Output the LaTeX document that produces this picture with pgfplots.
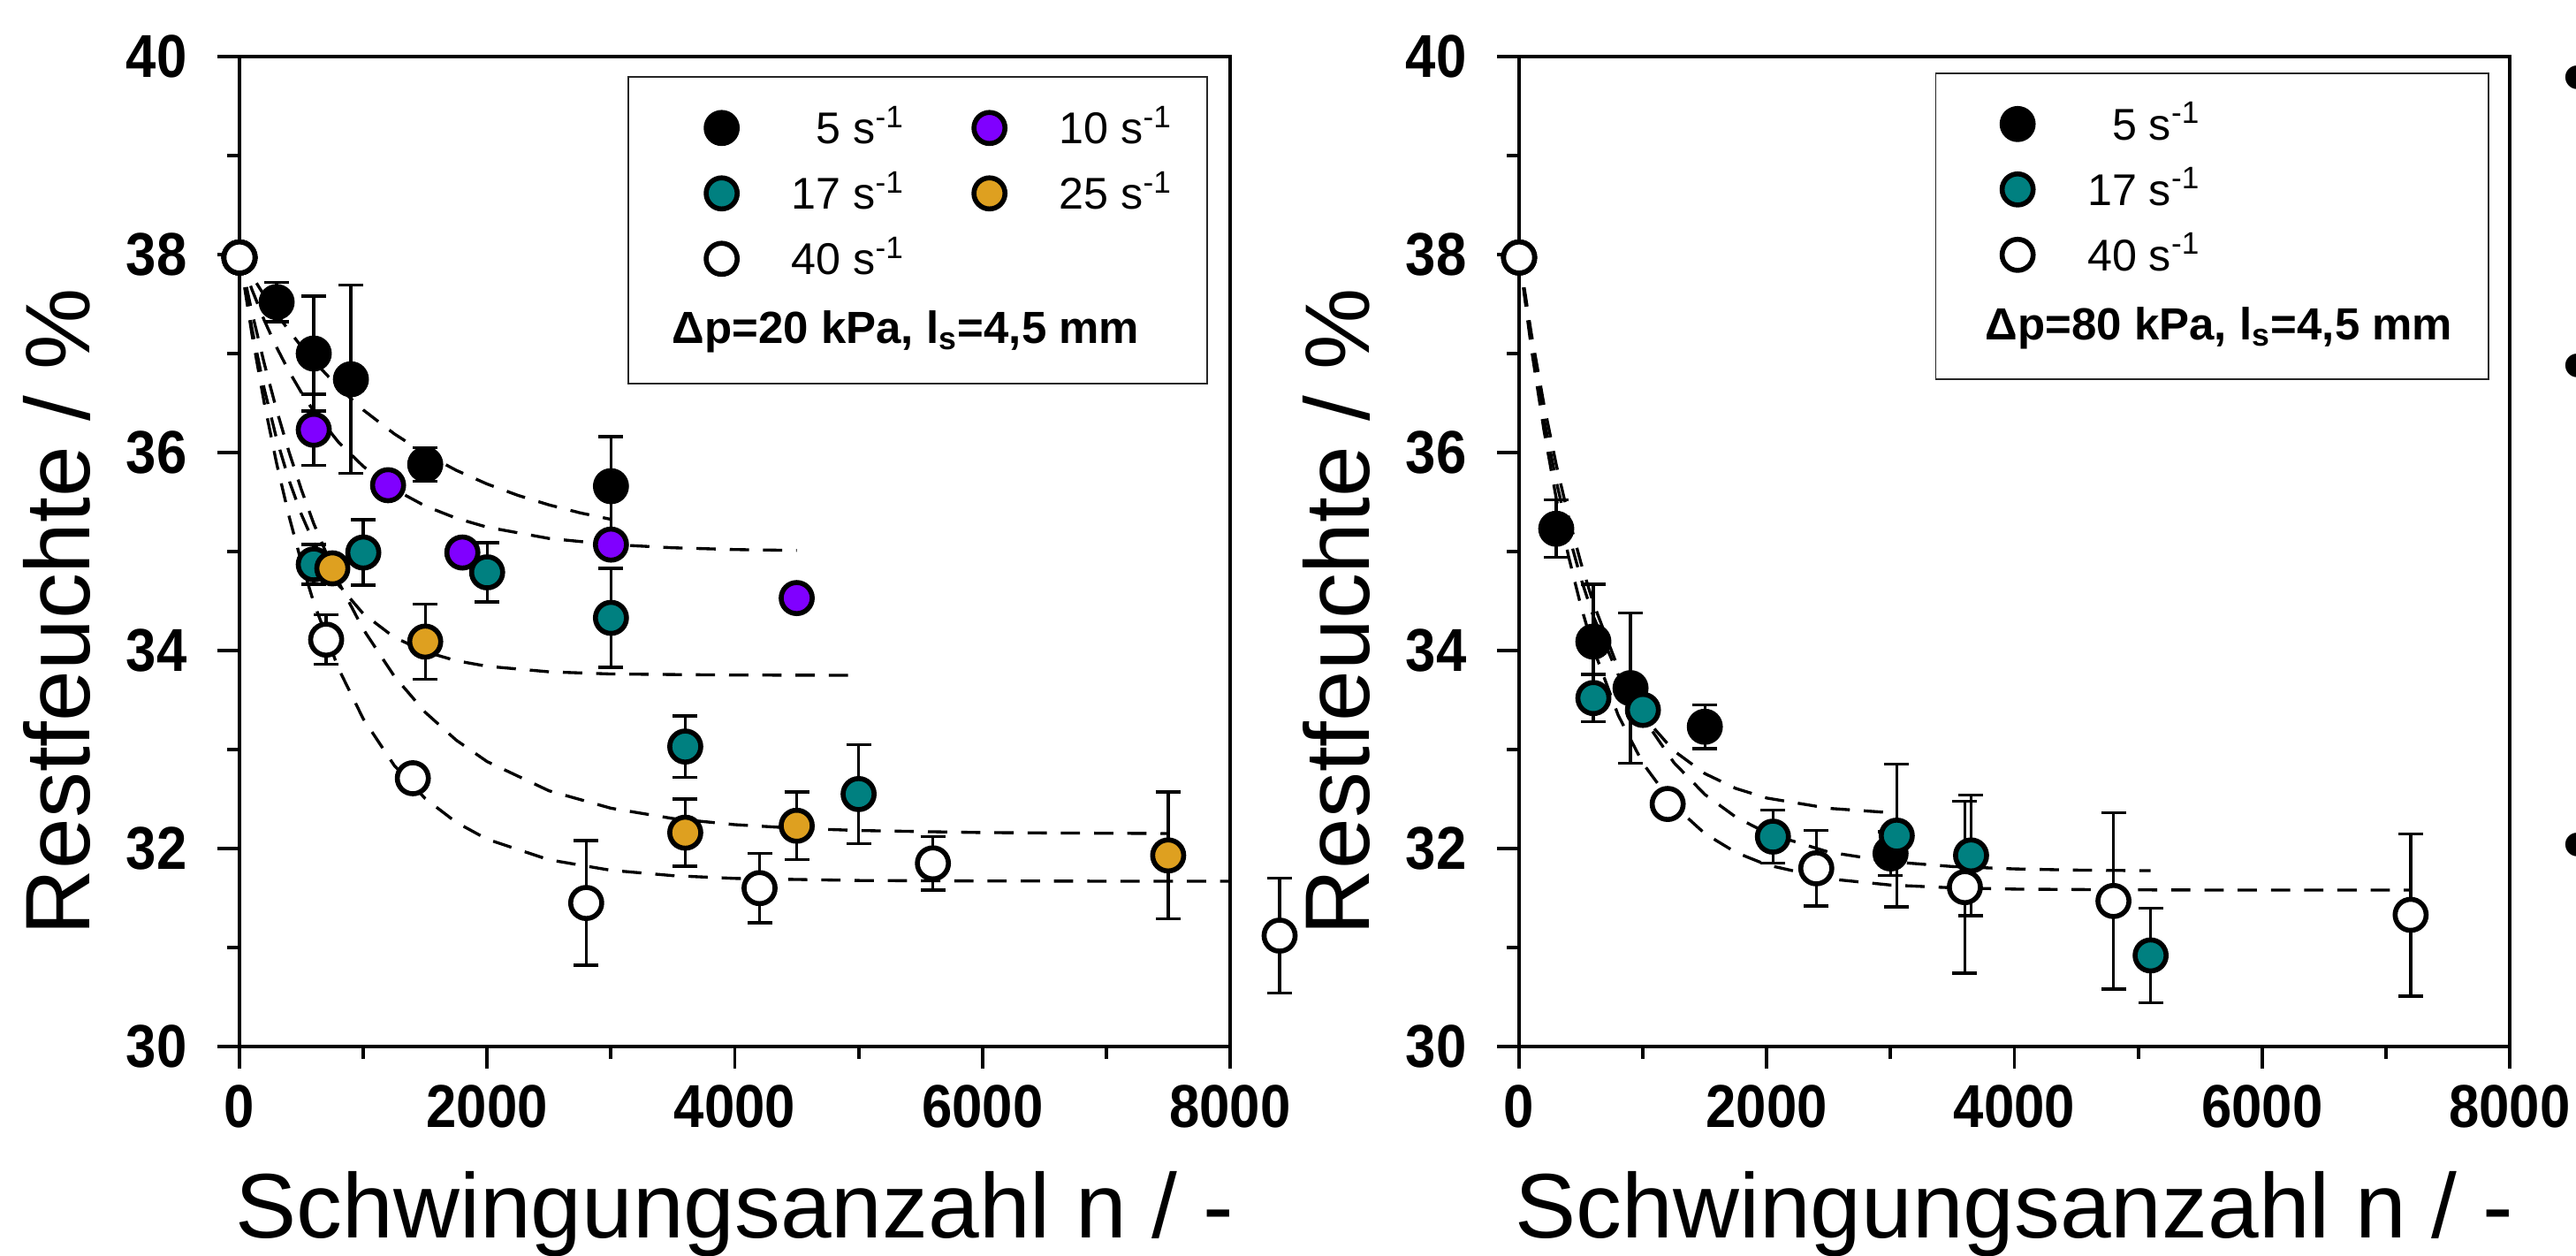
\documentclass[border=0pt]{standalone}
\usepackage{fontspec}
\setmainfont{Liberation Sans}
\newfontfamily\ticknarrow{Liberation Sans}[FakeStretch=0.9]
\usepackage{pgfplots}
\pgfplotsset{compat=1.18}

\definecolor{cteal}{RGB}{0,128,128}
\definecolor{cviolet}{RGB}{128,0,255}
\definecolor{corange}{RGB}{222,160,32}

\pgfplotsset{
  legend image code/.code={%
    \path[draw=none, fill=none] (-0.2cm,-0.2cm) rectangle (0.2cm,0.2cm);
    \draw[#1] plot coordinates {(0cm,0cm)};},
  panel/.style={
    width=11.21cm, height=11.20cm, scale only axis,
    xmin=0, xmax=8000, ymin=30, ymax=40,
    xtick={0,2000,4000,6000,8000},
    ytick={30,32,34,36,38,40},
    minor x tick num=1, minor y tick num=1,
    tick align=outside,
    xtick pos=bottom, ytick pos=left,
    major tick length=0.25cm, minor tick length=0.14cm,
    every tick/.style={black, line width=1.1pt},
    axis line style={line width=1.1pt},
    clip=false, axis on top,
    /pgf/number format/1000 sep={},
    /pgf/number format/assume math mode=true,
    ticklabel style={font=\ticknarrow\bfseries\fontsize{19.5}{22}\selectfont},
    xticklabel style={yshift=-0.06cm},
    yticklabel style={xshift=-0.22cm},
    xlabel={Schwingungsanzahl n / -},
    ylabel={Restfeuchte / \%},
    every axis x label/.style={at={(axis description cs:0.5,0)}, anchor=base, yshift=-2.17cm,
      font=\fontsize{29.5}{34}\selectfont},
    every axis y label/.style={at={(axis description cs:-0.151,0.439)}, anchor=base, rotate=90,
      font=\fontsize{29.5}{34}\selectfont},
    legend columns=2,
    legend cell align=right,
    legend style={anchor=north west, draw=none, fill=none,
      inner sep=0pt, font=\fontsize{14.3}{17}\selectfont,
      nodes={inner sep=0pt, text height=0.41cm, text depth=0.05cm},
      row sep=0.28cm,
      /tikz/every odd column/.append style={column sep=0.59cm},
      /tikz/every even column/.append style={column sep=0.76cm}},
  },
  pts/.style={only marks, mark=*, mark size=5pt,
    mark options={draw=black, line width=1.6pt, fill=#1},
    /pgfplots/error bars/y dir=both,
    /pgfplots/error bars/y explicit,
    /pgfplots/error bars/error bar style={line width=0.95pt, black},
    /pgfplots/error bars/error mark options={rotate=90, mark size=0.14cm, line width=0.95pt, black, fill=none}},
  fit/.style={black, line width=0.95pt, dash pattern=on 6.2pt off 4.5pt, forget plot},
}

\begin{document}
\begin{tikzpicture}
% ---------------- left panel: dp = 20 kPa ----------------
\begin{axis}[panel, name=L, at={(0,0)}, anchor=south west,
  legend style={at={(axis description cs:0.4683,0.949)}}]
  % fitted curves
  \addplot[fit] coordinates {(0,38) (100,37.786) (200,37.587) (300,37.402) (400,37.231) (500,37.071)
    (600,36.924) (800,36.659) (1000,36.430) (1250,36.189) (1500,35.988) (1750,35.821) (2000,35.682)
    (2250,35.567) (2500,35.471) (2750,35.391) (3000,35.325)};
  \addplot[fit] coordinates {(0,38) (100,37.648) (200,37.336) (300,37.062) (400,36.820) (500,36.606)
    (600,36.417) (800,36.104) (1000,35.860) (1250,35.629) (1500,35.460) (1750,35.337) (2000,35.246)
    (2500,35.132) (3000,35.071) (3500,35.038) (4000,35.020) (4500,35.011)};
  \addplot[fit] coordinates {(0,38) (100,37.257) (200,36.643) (300,36.137) (400,35.720) (500,35.375)
    (600,35.090) (800,34.662) (1000,34.371) (1250,34.134) (1500,33.988) (1750,33.897) (2000,33.841)
    (2500,33.785) (3000,33.763) (4000,33.752) (5000,33.750)};
  \addplot[fit] coordinates {(0,38) (100,37.421) (200,36.900) (300,36.430) (400,36.006) (500,35.625)
    (600,35.281) (800,34.692) (1000,34.214) (1250,33.741) (1500,33.376) (1750,33.095) (2000,32.878)
    (2500,32.583) (3000,32.407) (3500,32.303) (4000,32.241) (4500,32.204) (5000,32.182) (6000,32.161)
    (7000,32.154) (7500,32.152)};
  \addplot[fit] coordinates {(0,38) (100,37.200) (200,36.501) (300,35.890) (400,35.357) (500,34.891)
    (600,34.484) (800,33.817) (1000,33.309) (1250,32.839) (1500,32.504) (1750,32.265) (2000,32.094)
    (2500,31.886) (3000,31.780) (3500,31.726) (4000,31.698) (5000,31.677) (6000,31.672) (7000,31.670)
    (8000,31.670)};
  % measurements
  \addplot[pts=black] table[y error=e] {
x y e
0 37.97 0
300 37.52 0.20
600 37.00 0.58
900 36.74 0.95
1500 35.88 0.17
3000 35.66 0.50
};
  \addlegendentry{5 s\textsuperscript{-1}}
  \addplot[pts=cviolet] table[y error=e] {
x y e
0 37.97 0
600 36.23 0.36
1200 35.67 0.05
1800 34.99 0.12
3000 35.07 0.08
4500 34.53 0.03
};
  \addlegendentry{10 s\textsuperscript{-1}}
  \addplot[pts=cteal] table[y error=e] {
x y e
0 37.97 0
600 34.87 0.20
1000 34.99 0.33
2000 34.79 0.30
3000 34.33 0.50
3600 33.03 0.31
5000 32.55 0.50
};
  \addlegendentry{17 s\textsuperscript{-1}}
  \addplot[pts=corange] table[y error=e] {
x y e
0 37.97 0
750 34.83 0.05
1500 34.09 0.38
3600 32.16 0.34
4500 32.23 0.34
7500 31.93 0.64
};
  \addlegendentry{25 s\textsuperscript{-1}}
  \addplot[pts=white] table[y error=e] {
x y e
0 37.97 0
700 34.11 0.25
1400 32.71 0.05
2800 31.45 0.63
4200 31.60 0.35
5600 31.85 0.27
8400 31.12 0.58
};
  \addlegendentry{40 s\textsuperscript{-1}}
  \draw[line width=0.5pt, black!85] (axis description cs:0.3925,0.6696) rectangle (axis description cs:0.9768,0.9795);
  \node[font=\fontsize{14.5}{17}\selectfont\bfseries, anchor=base] at (axis description cs:0.6726,0.7107)
    {Δp=20 kPa, l\textsubscript{s}=4,5 mm};
\end{axis}
% ---------------- right panel: dp = 80 kPa ----------------
\begin{axis}[panel, name=R, at={(14.48cm,0)}, anchor=south west,
  legend columns=1,
  legend style={at={(axis description cs:0.4848,0.953)}}]
  \addplot[fit] coordinates {(0,38) (100,37.102) (200,36.346) (300,35.710) (400,35.175) (500,34.724)
    (600,34.345) (800,33.757) (1000,33.341) (1250,32.987) (1500,32.757) (1750,32.607) (2000,32.510)
    (2500,32.406) (3000,32.362)};
  \addplot[fit] coordinates {(0,38) (100,37.192) (200,36.489) (300,35.877) (400,35.345) (500,34.881)
    (600,34.478) (800,33.821) (1000,33.324) (1250,32.868) (1500,32.546) (1750,32.318) (2000,32.157)
    (2500,31.964) (3000,31.867) (3500,31.818) (4000,31.794) (4500,31.782) (5100,31.776)};
  \addplot[fit] coordinates {(0,38) (100,37.043) (200,36.230) (300,35.537) (400,34.948) (500,34.446)
    (600,34.019) (800,33.347) (1000,32.860) (1250,32.435) (1500,32.151) (1750,31.961) (2000,31.835)
    (2500,31.694) (3000,31.631) (3500,31.603) (4000,31.590) (5000,31.582) (6000,31.580) (7200,31.580)};
  \addplot[pts=black] table[y error=e] {
x y e
0 37.97 0
300 35.23 0.29
600 34.09 0.58
900 33.62 0.76
1500 33.23 0.22
3000 31.95 0.22
};
  \addlegendentry{5 s\textsuperscript{-1}}
  \addplot[pts=cteal] table[y error=e] {
x y e
0 37.97 0
600 33.52 0.24
1000 33.40 0.05
2050 32.12 0.27
3050 32.13 0.72
3650 31.93 0.61
5100 30.92 0.48
};
  \addlegendentry{17 s\textsuperscript{-1}}
  \addplot[pts=white] table[y error=e] {
x y e
0 37.97 0
1200 32.45 0.10
2400 31.80 0.38
3600 31.61 0.87
4800 31.47 0.89
7200 31.33 0.82
};
  \addlegendentry{40 s\textsuperscript{-1}}
  \draw[line width=0.5pt, black!85] (axis description cs:0.4207,0.674) rectangle (axis description cs:0.9786,0.983);
  \node[font=\fontsize{14.5}{17}\selectfont\bfseries, anchor=base] at (axis description cs:0.7065,0.714)
    {Δp=80 kPa, l\textsubscript{s}=4,5 mm};
\end{axis}
% cut-off bullets of the neighbouring text at the right edge
\foreach \yy in {10.86,7.60,2.18}
  \node[font=\fontsize{28}{28}\selectfont, inner sep=0pt, anchor=center] at (26.46cm,\yy cm) {•};
\pgfresetboundingbox
\path[use as bounding box] (-2.71cm,-2.37cm) rectangle (26.44cm,11.84cm);
\end{tikzpicture}
\end{document}
